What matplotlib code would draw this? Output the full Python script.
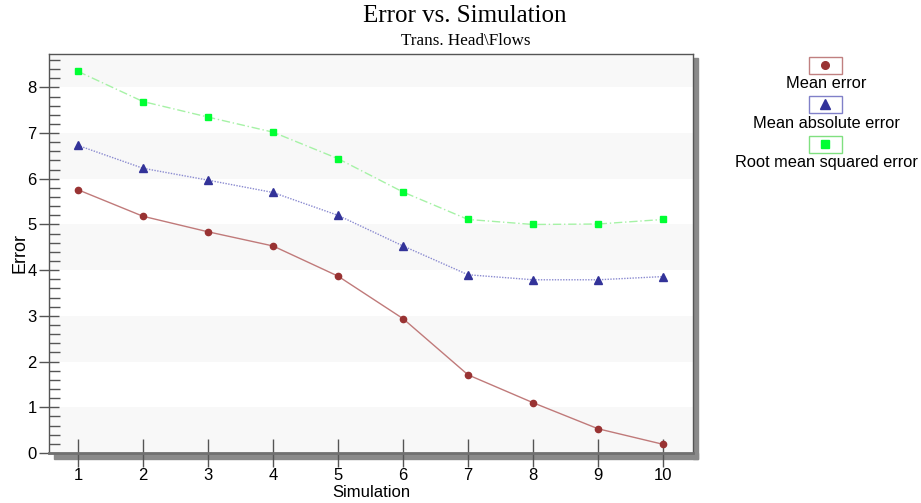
import matplotlib
matplotlib.use("Agg")
import matplotlib.pyplot as plt
from matplotlib.patches import Rectangle
from matplotlib.lines import Line2D
from matplotlib.ticker import MultipleLocator

simulation = [1, 2, 3, 4, 5, 6, 7, 8, 9, 10]
mean_error = [5.76, 5.18, 4.84, 4.53, 3.87, 2.94, 1.71, 1.10, 0.53, 0.19]
mean_abs_error = [6.73, 6.23, 5.97, 5.70, 5.20, 4.53, 3.90, 3.79, 3.79, 3.86]
rms_error = [8.35, 7.69, 7.35, 7.02, 6.44, 5.71, 5.11, 5.00, 5.01, 5.11]
series_names = ["Mean error", "Mean absolute error", "Root mean squared error"]

W, H = 921, 503
fig = plt.figure(figsize=(W / 100, H / 100), dpi=100)

left, right, top, bottom = 49, 693, 54, 453
ax = fig.add_axes([left / W, 1 - bottom / H, (right - left) / W, (bottom - top) / H])
ax.set_xlim(0.555, 10.46)
ax.set_ylim(0, 8.73)

# alternating horizontal bands
for y0 in range(0, 9, 2):
    ax.axhspan(y0, y0 + 1, color="#f8f8f8", zorder=0, lw=0)

styles = [
    dict(color="#c07a7a", ls="-", lw=1.0, marker="o", ms=4.5, mfc="#993333", mec="#993333"),
    dict(color="#8a8ad0", ls=(0, (1, 1)), lw=1.0, marker="^", ms=5.5, mfc="#333399", mec="#333399"),
    dict(color="#a6f2a6", ls=(0, (6, 2, 1, 2)), lw=1.0, marker="s", ms=5, mfc="#00ff33", mec="#00ff33"),
]
for vals, st in zip([mean_error, mean_abs_error, rms_error], styles):
    ax.plot(simulation, vals, zorder=3, clip_on=False, **st)

ax.xaxis.set_major_locator(MultipleLocator(1))
ax.yaxis.set_major_locator(MultipleLocator(1))
ax.yaxis.set_minor_locator(MultipleLocator(0.2))
ax.tick_params(axis="y", which="major", direction="inout", length=14, width=1, color="#555555",
               labelsize=12, pad=2)
ax.tick_params(axis="y", which="minor", direction="in", length=8, width=1, color="#555555")
ax.tick_params(axis="x", which="major", direction="inout", length=20, width=1, color="#555555",
               labelsize=12, pad=1)
for lbl in ax.get_xticklabels() + ax.get_yticklabels():
    lbl.set_fontfamily("Liberation Sans")

for side in ["left", "top", "right"]:
    ax.spines[side].set_color("#555555")
    ax.spines[side].set_linewidth(1)
ax.spines["bottom"].set_color("#707070")
ax.spines["bottom"].set_linewidth(2)

ax.set_xlabel("Simulation", fontsize=12, family="Liberation Sans", labelpad=1)
ax.set_ylabel("Error", fontsize=13, family="Liberation Sans", labelpad=-1)

# drop shadow along the right and bottom edges
shadow = "#8a8a8a"
fig.patches.append(Rectangle((54 / W, 1 - 459 / H), (698 - 54) / W, 6 / H,
                             transform=fig.transFigure, color=shadow, zorder=-1))
fig.patches.append(Rectangle((693 / W, 1 - 459 / H), 5 / W, (459 - 58) / H,
                             transform=fig.transFigure, color=shadow, zorder=-1))

fig.text(465 / W, 1 - 16 / H, "Error vs. Simulation", ha="center", va="center",
         fontsize=18, family="Liberation Serif")
fig.text(466 / W, 1 - 41 / H, "Trans. Head\\Flows", ha="center", va="center",
         fontsize=12.3, family="Liberation Serif")

# legend: boxed marker with caption beneath
legend_y = [65, 104, 144]
text_y = [84, 124, 163]
box_edges = ["#c08080", "#8080c8", "#80e080"]
for name, st, by, ty, ec in zip(series_names, styles, legend_y, text_y, box_edges):
    bw, bh = 33, 17
    fig.patches.append(Rectangle(((825 - bw / 2) / W, 1 - (by + bh / 2) / H), bw / W, bh / H,
                                 transform=fig.transFigure, fill=False, ec=ec, lw=1))
    fig.lines.append(Line2D([825 / W], [1 - by / H], transform=fig.transFigure, ls="none",
                            marker=st["marker"], ms=st["ms"] + 1, mfc=st["mfc"], mec=st["mec"]))
    fig.text(826 / W, 1 - ty / H, name, ha="center", va="center", fontsize=11.8,
             family="Liberation Sans")

fig.savefig("out.png", dpi=100)
